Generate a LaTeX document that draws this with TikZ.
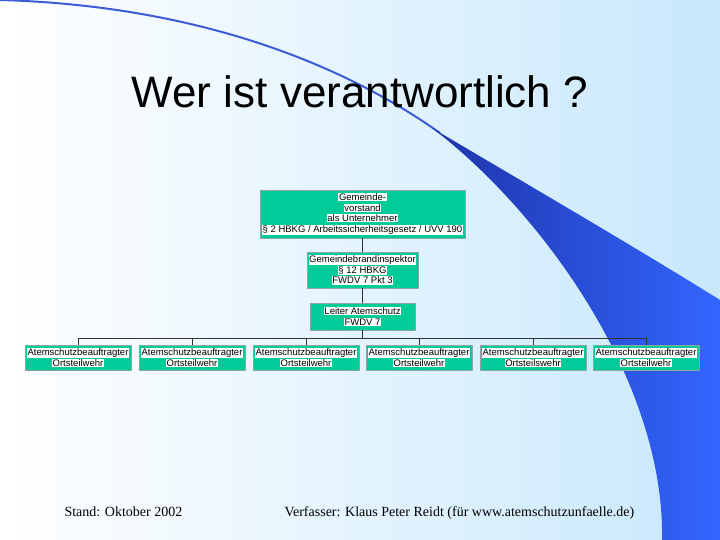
\documentclass[tikz,border=0pt]{standalone}
\usepackage{fontspec}
\setmainfont{Liberation Sans}
\newfontfamily\footfont{Liberation Serif}
\definecolor{orggreen}{RGB}{0,204,153}
\definecolor{orgedge}{RGB}{140,165,165}
\definecolor{bgblue}{RGB}{200,232,252}
\definecolor{swooshdark}{RGB}{30,52,170}
\definecolor{swooshblue}{RGB}{51,102,255}
\definecolor{swooshline}{RGB}{60,92,215}
\newcommand{\hl}[1]{\colorbox{white}{#1}}
\setlength{\fboxsep}{0.6pt}

\begin{document}
\begin{tikzpicture}[x=1pt, y=-1pt,
    orgbox/.style={rectangle, draw=orgedge, fill=orggreen, line width=0.8pt, inner sep=0pt, align=center, font=\fontsize{9.5}{10.5}\selectfont},
    link/.style={draw=black!80, line width=0.8pt}]
    \useasboundingbox (0,0) rectangle (720,540);

    % Background and swoosh
    \shade[left color=white, right color=bgblue] (0,0) rectangle (720,540);
    \draw[swooshline, line width=2pt] (0,0) .. controls (180,5) and (330,55) .. (440,133);
    \shade[left color=swooshdark, right color=swooshblue] (432,128) .. controls (540,210) and (665,380) .. (662,540) -- (720,540) -- (720,300) .. controls (640,250) and (520,180) .. (432,128) -- cycle;

    % Draw nodes
    \node[font=\fontsize{44}{50}\selectfont, anchor=base] (title) at (360,108) {Wer ist verantwortlich ?};
    \node[orgbox, minimum width=205pt, minimum height=48pt] (vorstand) at (362.5,214) {\hl{Gemeinde-}\\\hl{vorstand}\\\hl{als Unternehmer}\\\hl{§ 2 HBKG / Arbeitssicherheitsgesetz / UVV 190}};
    \node[orgbox, minimum width=111pt, minimum height=36pt] (gbi) at (362.5,270) {\hl{Gemeindebrandinspektor}\\\hl{§ 12 HBKG}\\\hl{FWDV 7 Pkt 3}};
    \node[orgbox, minimum width=105pt, minimum height=27pt] (leiter) at (362.5,316.5) {\hl{Leiter Atemschutz}\\\hl{FWDV 7}};
    \foreach \x/\wehr [count=\i] in {78/Ortsteilwehr, 192/Ortsteilwehr, 306/Ortsteilwehr, 419/Ortsteilwehr, 533/Ortsteilswehr, 646/Ortsteilwehr}
        \node[orgbox, minimum width=106pt, minimum height=25pt] (asb\i) at (\x,357.5) {\hl{Atemschutzbeauftragter}\\\hl{\wehr}};

    % Draw connections
    \coordinate (bus) at (362.5,338);
    \draw[link] (vorstand) -- (gbi);
    \draw[link] (gbi) -- (leiter);
    \draw[link] (leiter) -- (bus);
    \foreach \i in {1,...,6}
        \draw[link] (bus) -| (asb\i);

    % Footer
    \node[font=\footfont\fontsize{14}{16}\selectfont, anchor=base west] (stand) at (61,516) {Stand: Oktober 2002};
    \node[font=\footfont\fontsize{14}{16}\selectfont, anchor=base west] (verfasser) at (281,516) {Verfasser: Klaus Peter Reidt (für www.atemschutzunfaelle.de)};
\end{tikzpicture}
\end{document}
